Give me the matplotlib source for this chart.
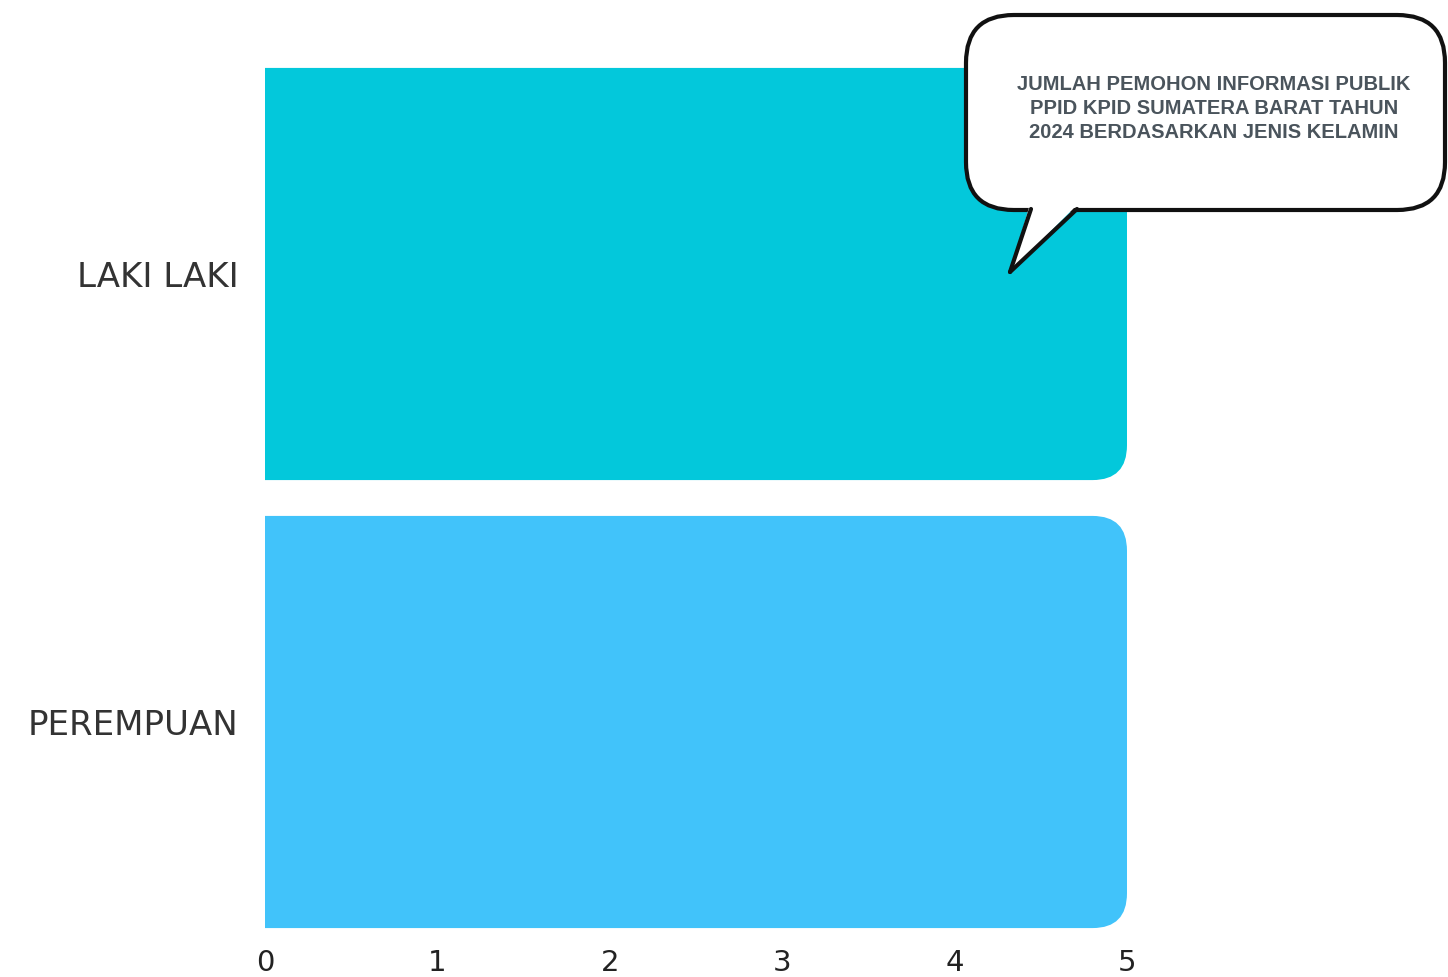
import matplotlib.pyplot as plt
from matplotlib.patches import FancyBboxPatch, Polygon
from matplotlib.lines import Line2D

categories = ['LAKI LAKI', 'PEREMPUAN']
values = [5, 5]
bar_colors = ['#03c8db', '#41c3fa']
x_ticks = [0, 1, 2, 3, 4, 5]
title_lines = ['JUMLAH PEMOHON INFORMASI PUBLIK',
               'PPID KPID SUMATERA BARAT TAHUN',
               '2024 BERDASARKAN JENIS KELAMIN']

W, H = 1448, 977
fig = plt.figure(figsize=(W / 100, H / 100), dpi=100)
fig.patch.set_facecolor('white')

# axes placed in pixel terms: x=0 at 265px, 172.4px per unit; rows 448px apart
ax = fig.add_axes([265 / W, 1 - 946 / H, 5.5 * 172.4 / W, (946 - 50) / H])
ypos = list(range(len(categories)))
bars = ax.barh(ypos, values, height=0.92, color=bar_colors)
ax.set_xlim(0, 5.5)
ax.set_ylim(1.5, -0.5)

# swap the plain bars for ones with rounded right corners
for bar, c in zip(bars, bar_colors):
    bar.set_visible(False)
    r = 0.2
    p = FancyBboxPatch((bar.get_x() - 1, bar.get_y()), bar.get_width() + 1, bar.get_height(),
                       boxstyle='round,pad=0,rounding_size=%s' % r,
                       mutation_aspect=0.39, facecolor=c, edgecolor='none')
    ax.add_patch(p)
    rect = plt.Rectangle((0, -10), 100, 20, transform=ax.transData)
    p.set_clip_path(rect)

ax.set_yticks(ypos)
ax.set_yticklabels(categories, fontsize=24.5, color='#333333', family=['DejaVu Sans'])
ax.set_xticks(x_ticks)
ax.set_xticklabels([str(t) for t in x_ticks], fontsize=21, color='#222222',
                   family=['Liberation Sans Narrow', 'DejaVu Sans'])
ax.tick_params(axis='y', length=0, pad=19)
ax.tick_params(axis='x', length=0, pad=2)
for s in ax.spines.values():
    s.set_visible(False)


def px(x, y):
    return (x / W, 1 - y / H)


# speech bubble with the title
box = FancyBboxPatch(px(966, 210), (1445 - 966) / W, (210 - 15) / H,
                     boxstyle='round,pad=0,rounding_size=0.033',
                     mutation_aspect=W / H,
                     transform=fig.transFigure, facecolor='white',
                     edgecolor='#111111', linewidth=3, zorder=5)
fig.patches.append(box)
tail = Polygon([px(1030, 204), px(1010, 272), px(1078, 204)], closed=True,
               transform=fig.transFigure, facecolor='white', edgecolor='none', zorder=6)
fig.patches.append(tail)
for a, b in [((1031, 209), (1010, 272)), ((1010, 272), (1077, 209))]:
    p1, p2 = px(*a), px(*b)
    fig.lines.append(Line2D([p1[0], p2[0]], [p1[1], p2[1]], transform=fig.transFigure,
                            color='#111111', linewidth=3, zorder=7,
                            solid_capstyle='round'))

for i, line in enumerate(title_lines):
    fig.text(1214 / W, 1 - (84 + 24.5 * i) / H, line, ha='center', va='center',
             fontsize=14.5, fontweight='bold', color='#4a545c',
             family=['Liberation Sans', 'DejaVu Sans'], zorder=8)

fig.savefig('out.png', dpi=100)
